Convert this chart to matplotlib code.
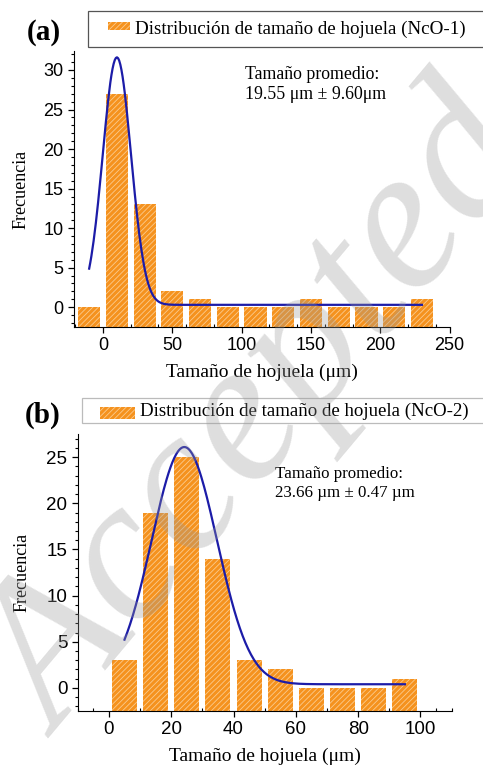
import numpy as np
import matplotlib.pyplot as plt
from matplotlib.patches import Rectangle

plt.rcParams['hatch.linewidth'] = 0.6

# ---- data, panel (a)
centers_a = [-10, 10, 30, 50, 70, 90, 110, 130, 150, 170, 190, 210, 230]
counts_a = [0, 27, 13, 2, 1, 0, 0, 0, 1, 0, 0, 0, 1]
fit_a = dict(xc=10.0, w=10.2, A=31.3, y0=0.3, x0=-10, x1=230)
label_a = "Distribución de tamaño de hojuela (NcO-1)"
note_a = "Tamaño promedio:\n19.55 μm ± 9.60μm"

# ---- data, panel (b)
centers_b = [5, 15, 25, 35, 45, 55, 65, 75, 85, 95]
counts_b = [3, 19, 25, 14, 3, 2, 0, 0, 0, 1]
fit_b = dict(xc=24.2, w=10.5, A=25.7, y0=0.4, x0=5, x1=95)
label_b = "Distribución de tamaño de hojuela (NcO-2)"
note_b = "Tamaño promedio:\n23.66 µm ± 0.47 µm"

BAR = "#F5921E"
HATCH = "#FBCB8E"
LINE = "#1C1CA8"
serif = "Liberation Serif"
sans = "Liberation Sans"


def gauss(p, n=300):
    x = np.linspace(p["x0"], p["x1"], n)
    return x, p["y0"] + p["A"] * np.exp(-(x - p["xc"]) ** 2 / (2 * p["w"] ** 2))


def panel(ax, centers, counts, width, fit, ylim, xlim, xticks, yticks, fs):
    counts = np.asarray(counts, float)
    ax.bar(centers, counts - ylim[0], width, bottom=ylim[0], color=BAR,
           edgecolor=HATCH, linewidth=0, hatch="//////", zorder=2)
    x, y = gauss(fit)
    ax.plot(x, y, color=LINE, lw=1.6, zorder=3)
    ax.set_xlim(*xlim)
    ax.set_ylim(*ylim)
    ax.set_xticks(xticks)
    ax.set_yticks(yticks)
    ax.spines["top"].set_visible(False)
    ax.spines["right"].set_visible(False)
    ax.minorticks_on()
    ax.tick_params(which="major", direction="out", length=4, width=0.9,
                   labelsize=fs)
    ax.tick_params(axis="y", which="minor", direction="out", length=2.5, width=0.8)
    ax.tick_params(axis="x", which="minor", direction="in", length=2.5, width=0.8)
    for lab in ax.get_xticklabels() + ax.get_yticklabels():
        lab.set_fontfamily(sans)
    ax.set_xlabel("Tamaño de hojuela (μm)", fontfamily=serif, fontsize=14,
                  labelpad=7)
    ax.set_ylabel("Frecuencia", fontfamily=serif, fontsize=13)


def legend_box(fig, box, handle, text, tx, ty, fs, edge):
    fig.patches.append(Rectangle(box[:2], box[2], box[3], transform=fig.transFigure,
                                 facecolor="white", edgecolor=edge, lw=0.9))
    fig.patches.append(Rectangle(handle[:2], handle[2], handle[3],
                                 transform=fig.transFigure, facecolor=BAR,
                                 edgecolor=HATCH, lw=0, hatch="//////"))
    fig.text(tx, ty, text, fontfamily=serif, fontsize=fs, va="center")


fig = plt.figure(figsize=(4.83, 7.67), dpi=100)

ax1 = fig.add_axes([0.153, 0.5737, 0.778, 0.3598])
panel(ax1, centers_a, counts_a, 16, fit_a, (-2.5, 32.4), (-21, 250),
      [0, 50, 100, 150, 200, 250], [0, 5, 10, 15, 20, 25, 30], 13)
ax1.yaxis.set_label_coords(-0.118, 0.5)
ax1.text(0.455, 0.945, note_a, transform=ax1.transAxes, fontfamily=serif,
         fontsize=12.8, va="top", linespacing=1.25)

ax2 = fig.add_axes([0.161, 0.073, 0.774, 0.361])
panel(ax2, centers_b, counts_b, 8.0, fit_b, (-2.5, 27.5), (-10, 110),
      [0, 20, 40, 60, 80, 100], [0, 5, 10, 15, 20, 25], 13.5)
ax2.yaxis.set_label_coords(-0.126, 0.5)
ax2.text(0.527, 0.885, note_b, transform=ax2.transAxes, fontfamily=serif,
         fontsize=12.2, va="top", linespacing=1.25)

# legends drawn as boxes in figure coordinates
legend_box(fig, (0.182, 0.9387, 0.85, 0.047), (0.2236, 0.9609, 0.0455, 0.0104),
           label_a, 0.2795, 0.962, 13.7, "#555555")
legend_box(fig, (0.170, 0.4485, 0.85, 0.0326), (0.207, 0.4537, 0.0725, 0.0156),
           label_b, 0.290, 0.464, 13.6, "#bbbbbb")

fig.text(0.056, 0.957, "(a)", fontfamily=serif, fontweight="bold", fontsize=21,
         va="center")
fig.text(0.051, 0.459, "(b)", fontfamily=serif, fontweight="bold", fontsize=21,
         va="center")

# watermark
fig.text(0.545, 0.455, "Accepted", fontfamily=serif, style="italic",
         fontsize=148, color="#9a9a9a", alpha=0.32, rotation=50,
         ha="center", va="center", zorder=10)

fig.savefig("out.png", dpi=100)
